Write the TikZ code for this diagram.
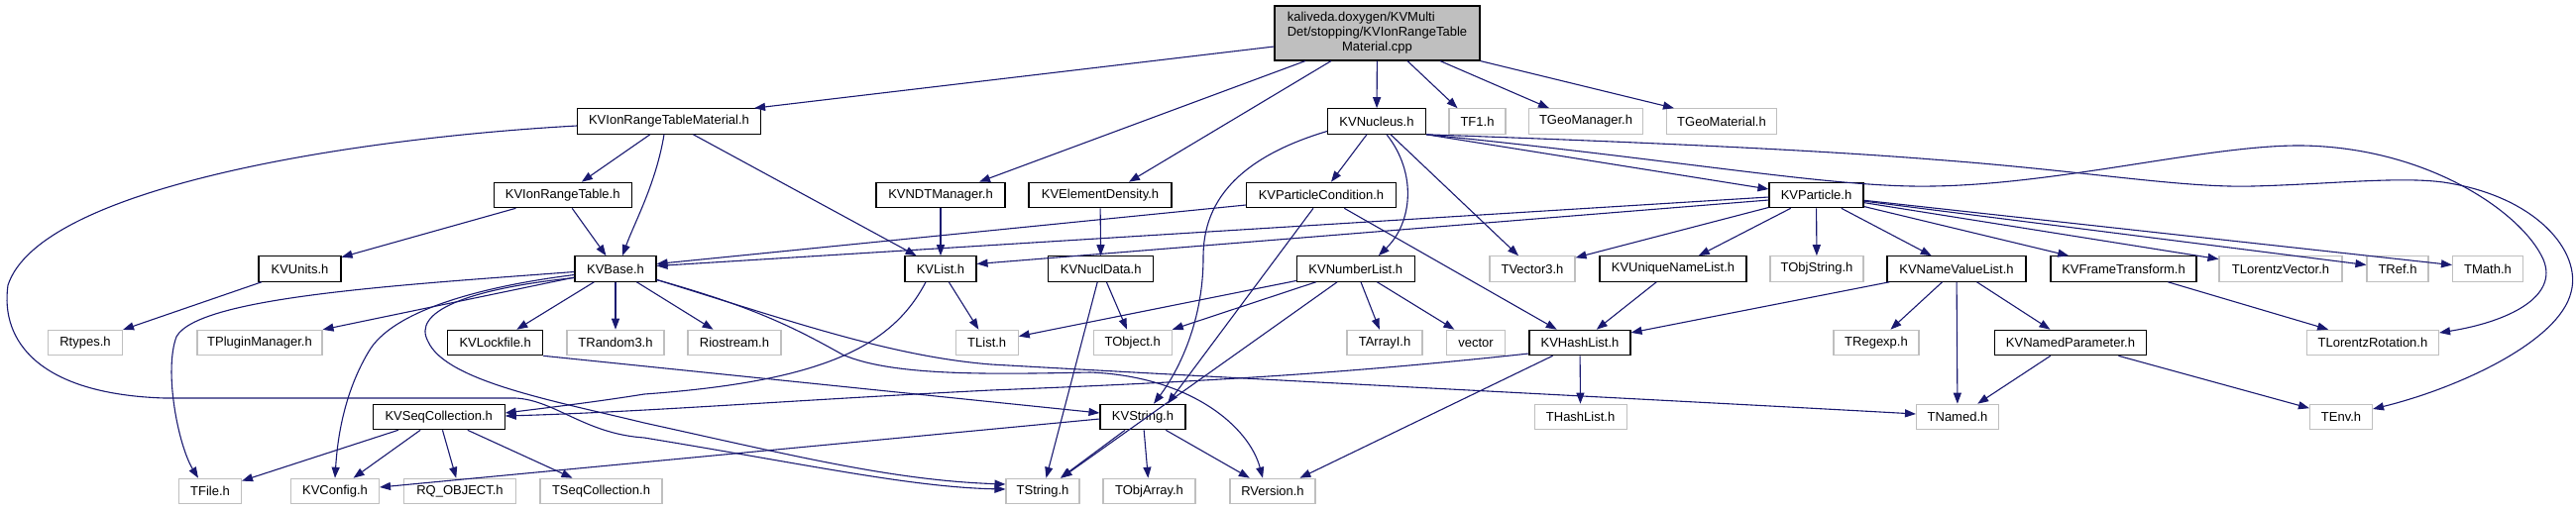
\documentclass[tikz,border=0pt]{standalone}
\usepackage{fontspec}
\setmainfont{Liberation Sans}
\usetikzlibrary{arrows.meta}
\definecolor{edgeblue}{HTML}{191970}
\definecolor{lightgreyline}{HTML}{BFBFBF}
\begin{document}
\begin{tikzpicture}[x=1pt,y=-1pt,
  nbox/.style={draw, line width=1.1pt, minimum height=25.5pt, inner sep=0pt, font=\fontsize{13}{15}\selectfont},
  kv/.style={nbox, draw=black},
  ext/.style={nbox, draw=lightgreyline},
  dep/.style={draw=edgeblue, line width=1.1pt, -{Triangle[length=11pt,width=8pt]}}]
\useasboundingbox (0,0) rectangle (2599,515);
% row 0
\node[kv, fill=lightgreyline, minimum width=207pt, minimum height=55pt] (root) at (1389.5,33.5)
  {\begin{tabular}{@{}l@{}}kaliveda.doxygen/KVMulti\\Det/stopping/KVIonRangeTable\\\multicolumn{1}{@{}c@{}}{Material.cpp}\end{tabular}};
% row 1
\node[kv, minimum width=185pt] (ionmat) at (675,122.5) {KVIonRangeTableMaterial.h};
\node[kv, minimum width=99pt] (nucleus) at (1389,122.5) {KVNucleus.h};
\node[ext, minimum width=57pt] (tf1) at (1490.5,122.5) {TF1.h};
\node[ext, minimum width=115pt] (geoman) at (1600,122.5) {TGeoManager.h};
\node[ext, minimum width=111pt] (geomat) at (1737,122.5) {TGeoMaterial.h};
% row 2
\node[kv, minimum width=139pt] (iontable) at (567.7,197) {KVIonRangeTable.h};
\node[kv, minimum width=130pt] (ndt) at (949,197) {KVNDTManager.h};
\node[kv, minimum width=144pt] (elden) at (1110,197) {KVElementDensity.h};
\node[kv, minimum width=151pt] (partcond) at (1333,197) {KVParticleCondition.h};
\node[kv, minimum width=95pt] (particle) at (1832.5,197) {KVParticle.h};
% row 3
\node[kv, minimum width=83pt] (units) at (302.5,271.5) {KVUnits.h};
\node[kv, minimum width=82pt] (base) at (621,271.5) {KVBase.h};
\node[kv, minimum width=72pt] (list) at (949,271.5) {KVList.h};
\node[kv, minimum width=106pt] (nucldata) at (1110.7,271.5) {KVNuclData.h};
\node[kv, minimum width=119pt] (numlist) at (1367.8,271.5) {KVNumberList.h};
\node[ext, minimum width=86pt] (tvector) at (1546,271.5) {TVector3.h};
\node[kv, minimum width=148pt] (uniq) at (1688,271.5) {KVUniqueNameList.h};
\node[ext, minimum width=94pt] (objstring) at (1833,271.5) {TObjString.h};
\node[kv, minimum width=140pt] (nvl) at (1974,271.5) {KVNameValueList.h};
\node[kv, minimum width=147pt] (frame) at (2142.5,271.5) {KVFrameTransform.h};
\node[ext, minimum width=124pt] (lorvec) at (2301,271.5) {TLorentzVector.h};
\node[ext, minimum width=62pt] (tref) at (2419,271.5) {TRef.h};
\node[ext, minimum width=71pt] (tmath) at (2510,271.5) {TMath.h};
% row 4
\node[ext, minimum width=75pt] (rtypes) at (86,346) {Rtypes.h};
\node[ext, minimum width=126pt] (plugin) at (262,346) {TPluginManager.h};
\node[kv, minimum width=96pt] (lockfile) at (499.7,346) {KVLockfile.h};
\node[ext, minimum width=98pt] (random) at (621,346) {TRandom3.h};
\node[ext, minimum width=94pt] (riostream) at (741,346) {Riostream.h};
\node[ext, minimum width=63pt] (tlist) at (995.7,346) {TList.h};
\node[ext, minimum width=79pt] (tobject) at (1142.7,346) {TObject.h};
\node[ext, minimum width=76pt] (tarrayi) at (1397,346) {TArrayI.h};
\node[ext, minimum width=59pt] (vec) at (1489,346) {vector};
\node[kv, minimum width=102pt] (hashlist) at (1594,346) {KVHashList.h};
\node[ext, minimum width=86pt] (regexp) at (1893,346) {TRegexp.h};
\node[kv, minimum width=153pt] (namedpar) at (2089,346) {KVNamedParameter.h};
\node[ext, minimum width=133pt] (lorrot) at (2394,346) {TLorentzRotation.h};
% row 5
\node[kv, minimum width=133pt] (seqcoll) at (442.7,421) {KVSeqCollection.h};
\node[kv, minimum width=86pt] (kvstring) at (1153,421) {KVString.h};
\node[ext, minimum width=93pt] (thashlist) at (1594.6,421) {THashList.h};
\node[ext, minimum width=83pt] (tnamed) at (1975,421) {TNamed.h};
\node[ext, minimum width=63pt] (tenv) at (2362,421) {TEnv.h};
% row 6
\node[ext, minimum width=63pt] (tfile) at (212,496) {TFile.h};
\node[ext, minimum width=89pt] (kvconfig) at (338,496) {KVConfig.h};
\node[ext, minimum width=113pt] (rqobject) at (464,496) {RQ\_OBJECT.h};
\node[ext, minimum width=123pt] (tseqcoll) at (606.5,496) {TSeqCollection.h};
\node[ext, minimum width=74pt] (tstring) at (1052,496) {TString.h};
\node[ext, minimum width=93pt] (tobjarray) at (1159.5,496) {TObjArray.h};
\node[ext, minimum width=86pt] (rversion) at (1284,496) {RVersion.h};

% root edges
\draw[dep] ([yshift=-13.5pt]root.west) -- ([xshift=-7pt]ionmat.north east);
\draw[dep] ([xshift=-72.5pt]root.south) -- ([xshift=39pt]ndt.north);
\draw[dep] ([xshift=-46.5pt]root.south) -- ([xshift=29pt]elden.north);
\draw[dep] (root) -- (nucleus);
\draw[dep] ([xshift=30.5pt]root.south) -- ([xshift=-20pt]tf1.north);
\draw[dep] ([xshift=63.5pt]root.south) -- ([xshift=-37pt]geoman.north);
\draw[dep] (root.south east) -- ([xshift=8pt]geomat.north west);
% KVIonRangeTableMaterial
\draw[dep] (ionmat) -- (iontable);
\draw[dep] ([xshift=-5pt]ionmat.south) .. controls (662,185) and (640,225) .. ([xshift=7pt]base.north);
\draw[dep] (ionmat) -- (list);
\draw[dep] ([yshift=-4.5pt]ionmat.west) .. controls (350,140) and (40,190) .. (8,288) .. controls (0,345) and (40,398) .. (166,402) -- (520,402) .. controls (560,404) and (590,438) .. (650,442) .. controls (820,470) and (920,492) .. ([yshift=2pt]tstring.west);
% KVIonRangeTable, KVUnits, KVNDTManager, KVElementDensity, KVNuclData
\draw[dep] (iontable) -- (units);
\draw[dep] (iontable) -- (base);
\draw[dep] (units) -- (rtypes);
\draw[dep] (ndt) -- (list);
\draw[dep] (elden) -- (nucldata);
\draw[dep] (nucldata) -- (tobject);
\draw[dep] (nucldata) -- (tstring);
% KVNucleus
\draw[dep] (nucleus) -- (partcond);
\draw[dep] ([xshift=10pt]nucleus.south) .. controls (1430,175) and (1425,225) .. ([xshift=23pt]numlist.north);
\draw[dep] (nucleus) -- (tvector);
\draw[dep] ([yshift=-10pt]nucleus.west) .. controls (1230,165) and (1214,220) .. (1214,260) .. controls (1214,330) and (1185,380) .. ([xshift=11pt]kvstring.north);
\draw[dep] (nucleus.south east) -- ([yshift=6pt]particle.west);
\draw[dep] (nucleus.south east) .. controls (1700,162) and (1850,190) .. (1950,188) .. controls (2080,186) and (2230,146) .. (2323,147) .. controls (2450,149) and (2545,215) .. (2566,262) .. controls (2582,300) and (2530,325) .. ([yshift=10pt]lorrot.east);
\draw[dep] (nucleus.south east) .. controls (1700,145) and (1850,153) .. (1950,161) .. controls (2100,172) and (2200,190) .. (2273,188) .. controls (2350,186) and (2420,178) .. (2465,184) .. controls (2560,198) and (2605,255) .. (2594,295) .. controls (2582,345) and (2480,392) .. ([yshift=8pt]tenv.east);
% KVParticleCondition
\draw[dep] ([yshift=-10pt]partcond.west) -- ([yshift=5pt]base.east);
\draw[dep] ([xshift=-8pt]partcond.south) -- ([xshift=25pt]kvstring.north);
\draw[dep] (partcond) -- (hashlist);
% KVParticle
\draw[dep] ([yshift=-2pt]particle.west) -- ([yshift=3pt]base.east);
\draw[dep] ([yshift=-5pt]particle.west) -- ([yshift=5pt]list.east);
\draw[dep] (particle) -- (tvector);
\draw[dep] (particle) -- (uniq);
\draw[dep] (particle) -- (objstring);
\draw[dep] (particle) -- (nvl);
\draw[dep] (particle) -- (frame);
\draw[dep] (particle) -- (lorvec);
\draw[dep] (particle) -- (tref);
\draw[dep] (particle) -- (tmath);
% KVNumberList
\draw[dep] (numlist) -- (tlist);
\draw[dep] (numlist) -- (tobject);
\draw[dep] (numlist) -- (tarrayi);
\draw[dep] (numlist) -- (vec);
\draw[dep] (numlist) -- (tstring);
% lists and parameters
\draw[dep] (uniq) -- (hashlist);
\draw[dep] (nvl) -- (hashlist);
\draw[dep] (nvl) -- (regexp);
\draw[dep] (nvl) -- (tnamed);
\draw[dep] (nvl) -- (namedpar);
\draw[dep] (frame) -- (lorrot);
\draw[dep] (namedpar) -- (tnamed);
\draw[dep] (namedpar) -- (tenv);
\draw[dep] (hashlist) -- (thashlist);
\draw[dep] (hashlist) -- (rversion);
\draw[dep] ([yshift=-11pt]hashlist.west) .. controls (1350,378) and (1200,386) .. (1000,394) .. controls (800,404) and (650,416) .. ([yshift=1pt]seqcoll.east);
% KVBase
\draw[dep] (base) -- (lockfile);
\draw[dep] (base) -- (random);
\draw[dep] (base) -- (riostream);
\draw[dep] (base) -- (plugin);
\draw[dep] ([yshift=-3pt]base.west) .. controls (400,288) and (200,300) .. (178,340) .. controls (165,375) and (180,450) .. ([xshift=-12pt]tfile.north);
\draw[dep] ([yshift=-6pt]base.west) .. controls (480,290) and (395,315) .. (372,355) .. controls (345,400) and (340,450) .. (kvconfig.north);
\draw[dep] ([yshift=-9pt]base.west) .. controls (470,292) and (415,315) .. (432,345) .. controls (450,385) and (560,405) .. (650,427) .. controls (800,460) and (900,485) .. ([yshift=7pt]tstring.west);
\draw[dep] ([yshift=-11pt]base.east) .. controls (760,310) and (800,330) .. (850,358) .. controls (900,380) and (1000,378) .. (1100,376) .. controls (1200,380) and (1260,430) .. ([xshift=-10pt]rversion.north);
\draw[dep] ([yshift=-11pt]base.east) .. controls (800,325) and (900,360) .. (1000,368) .. controls (1300,385) and (1700,405) .. ([yshift=3pt]tnamed.west);
% KVLockfile, KVList
\draw[dep] (lockfile.south east) -- ([yshift=4pt]kvstring.west);
\draw[dep] (list) -- (tlist);
\draw[dep] ([xshift=-15pt]list.south) .. controls (900,350) and (830,385) .. (650,398) .. controls (600,406) and (550,412) .. ([yshift=4pt]seqcoll.east);
% KVSeqCollection
\draw[dep] (seqcoll) -- (tfile);
\draw[dep] (seqcoll) -- (kvconfig);
\draw[dep] (seqcoll) -- (rqobject);
\draw[dep] (seqcoll) -- (tseqcoll);
% KVString
\draw[dep] (kvstring) -- (tstring);
\draw[dep] (kvstring) -- (tobjarray);
\draw[dep] (kvstring) -- (rversion);
\draw[dep] ([yshift=-2pt]kvstring.west) -- ([yshift=4pt]kvconfig.east);
\end{tikzpicture}
\end{document}
